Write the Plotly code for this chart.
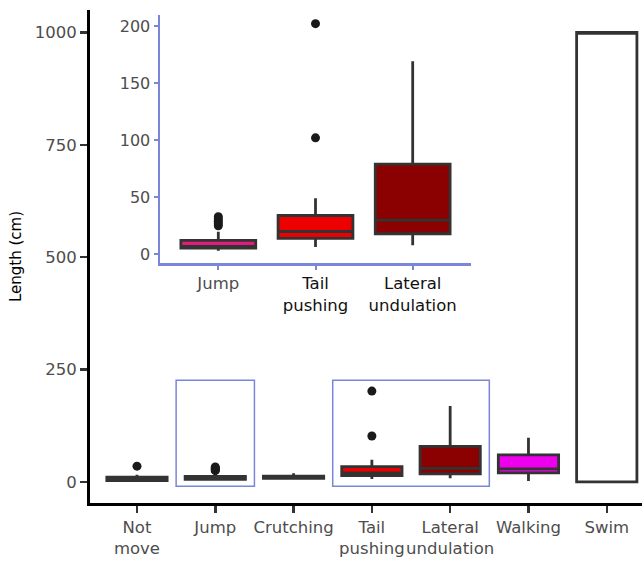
import plotly.graph_objects as go

# ---------------- data ----------------
categories = ["Not move", "Jump", "Crutching", "Tail pushing",
              "Lateral undulation", "Walking", "Swim"]
tick_labels = ["Not<br>move", "Jump", "Crutching", "Tail<br>pushing",
               "Lateral<br>undulation", "Walking", "Swim"]
q1_vals = [3, 5.5, 8, 14, 18, 20, 0]
median_vals = [6, 7, 10, 20, 30, 29, 1000]
q3_vals = [10.5, 12.3, 12.5, 34, 79, 60, 1000]
lower_vals = [1, 3.2, 6, 6.5, 8, 2, 0]
upper_vals = [16, 19.8, 19, 49, 169, 98, 1000]
fill_colors = ["#FFFFFF", "#E6197F", "#FFFFFF", "#EE0000",
               "#8B0000", "#EE00EE", "#FFFFFF"]

outlier_cats = ["Not move", "Jump", "Jump", "Jump", "Jump", "Jump",
                "Tail pushing", "Tail pushing"]
outlier_vals = [35, 25, 27, 29, 31, 33, 102, 202]

inset_categories = ["Jump", "Tail pushing", "Lateral undulation"]
inset_labels = ["Jump",
                "<span style='color:#111111'>Tail</span><br><span style='color:#111111'>pushing</span>",
                "<span style='color:#111111'>Lateral</span><br><span style='color:#111111'>undulation</span>"]

main_ticks = [0, 250, 500, 750, 1000]
inset_ticks = [0, 50, 100, 150, 200]

# highlighted groups (category spans) shown in the main panel
highlight_groups = [["Jump", "Jump"], ["Tail pushing", "Lateral undulation"]]
highlight_y = [-10, 226]

# ---------------- style ----------------
BOX_LINE = "#333333"
BLUE = "#7986D9"
FONT = "DejaVu Sans"
BOX_W = 0.77

fig = go.Figure()

def add_boxes(cats, xa, ya):
    for c in cats:
        i = categories.index(c)
        fig.add_trace(go.Box(
            x=[c], q1=[q1_vals[i]], median=[median_vals[i]], q3=[q3_vals[i]],
            lowerfence=[lower_vals[i]], upperfence=[upper_vals[i]],
            width=BOX_W, whiskerwidth=0, fillcolor=fill_colors[i],
            line=dict(color=BOX_LINE, width=2.8), boxpoints=False,
            showlegend=False, xaxis=xa, yaxis=ya, hoverinfo="skip"))
    ox = [c for c, v in zip(outlier_cats, outlier_vals) if c in cats]
    oy = [v for c, v in zip(outlier_cats, outlier_vals) if c in cats]
    fig.add_trace(go.Scatter(
        x=ox, y=oy, mode="markers",
        marker=dict(color="#1a1a1a", size=9),
        showlegend=False, xaxis=xa, yaxis=ya, hoverinfo="skip"))

add_boxes(categories, "x", "y")
add_boxes(inset_categories, "x2", "y2")

# highlight rectangles
for a, b in highlight_groups:
    fig.add_shape(type="rect", xref="x", yref="y",
                  x0=categories.index(a) - 0.5, x1=categories.index(b) + 0.5,
                  y0=highlight_y[0], y1=highlight_y[1],
                  line=dict(color=BLUE, width=1.5), fillcolor="rgba(0,0,0,0)")

W, H = 642, 565
ML, MR, MT, MB = 90, 0, 10, 565 - 503
pw, ph = W - ML - MR, H - MT - MB

def fx(px):
    return (px - ML) / pw

def fy(py):
    return (H - MB - py) / ph

inset_x = [fx(160), fx(471)]
inset_y = [fy(263), fy(15)]

fig.update_layout(
    width=W, height=H,
    margin=dict(l=ML, r=MR, t=MT, b=MB, autoexpand=False),
    plot_bgcolor="white", paper_bgcolor="white",
    font=dict(family=FONT, color="#4d4d4d"),
    xaxis=dict(
        domain=[0, 1], type="category",
        categoryorder="array", categoryarray=categories,
        range=[-0.6, 6.45], automargin=False, tickangle=0,
        tickmode="array", tickvals=categories, ticktext=tick_labels,
        tickfont=dict(size=16.5, color="#4d4d4d", family=FONT),
        showline=True, linecolor="black", linewidth=3,
        ticks="outside", ticklen=7, tickwidth=2.5, tickcolor="#333333",
        showgrid=False, zeroline=False, fixedrange=True),
    yaxis=dict(
        domain=[0, 1], range=[-47, 1050], automargin=False,
        tickvals=main_ticks,
        tickfont=dict(size=16.5, color="#4d4d4d", family=FONT),
        showline=True, linecolor="black", linewidth=3,
        ticks="outside", ticklen=7, tickwidth=2.5, tickcolor="#333333",
        showgrid=False, zeroline=False,
        title=dict(text="Length (cm)", font=dict(size=15, color="black", family=FONT),
                   standoff=10)),
    xaxis2=dict(
        domain=inset_x, anchor="y2", type="category",
        categoryorder="array", categoryarray=inset_categories,
        range=[-0.6, 2.6], automargin=False, tickangle=0,
        tickmode="array", tickvals=inset_categories, ticktext=inset_labels,
        tickfont=dict(size=16.5, color="#4d4d4d", family=FONT),
        showline=True, linecolor=BLUE, linewidth=2.5,
        ticks="outside", ticklen=4, tickwidth=2, tickcolor=BLUE,
        showgrid=False, zeroline=False),
    yaxis2=dict(
        domain=inset_y, anchor="x2", range=[-7.6, 209.6], automargin=False,
        tickvals=inset_ticks,
        tickfont=dict(size=16, color="#4d4d4d", family=FONT),
        showline=True, linecolor=BLUE, linewidth=2.5,
        ticks="outside", ticklen=4, tickwidth=2, tickcolor=BLUE,
        showgrid=False, zeroline=False),
)

fig.write_html(
    "out.html",
    config={"displayModeBar": False, "staticPlot": True},
    post_script="document.body.style.margin='0';document.body.style.overflow='hidden';",
)
